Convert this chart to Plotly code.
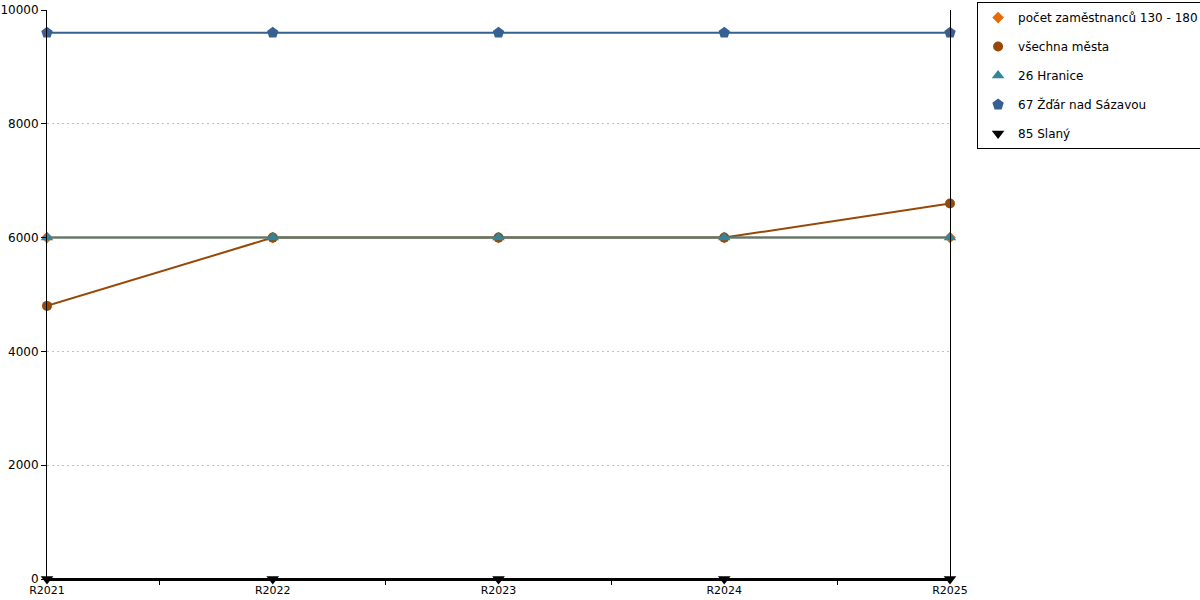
import plotly.graph_objects as go

categories = ["R2021", "R2022", "R2023", "R2024", "R2025"]
pocet_zamestnancu = [6000, 6000, 6000, 6000, 6000]
vsechna_mesta = [4800, 6000, 6000, 6000, 6600]
hranice = [6000, 6000, 6000, 6000, 6000]
zdar = [9600, 9600, 9600, 9600, 9600]
slany = [0, 0, 0, 0, 0]
y_ticks = [0, 2000, 4000, 6000, 8000, 10000]

series = [
    ("počet zaměstnanců 130 - 180", pocet_zamestnancu, "#E46C0A", "diamond", 9),
    ("všechna města", vsechna_mesta, "#974806", "circle", 10),
    ("26 Hranice", hranice, "#31859C", "triangle-up", 11),
    ("67 Žďár nad Sázavou", zdar, "#366092", "pentagon", 12),
    ("85 Slaný", slany, "#000000", "triangle-down", 11),
]

fig = go.Figure()
for i, (name, vals, color, sym, size) in enumerate(series):
    fig.add_trace(go.Scatter(
        x=categories, y=vals, name=name, mode="lines",
        line=dict(color=color, width=2), showlegend=False,
        cliponaxis=False, hoverinfo="skip",
    ))
    fig.add_trace(go.Scatter(
        x=categories, y=vals, name=name, mode="markers",
        marker=dict(symbol=sym, size=size, color=color),
        legendgroup=f"g{i}", cliponaxis=False,
    ))

fig.update_layout(
    width=1200, height=600,
    margin=dict(l=47, r=250, t=10, b=21, autoexpand=False),
    plot_bgcolor="white", paper_bgcolor="white",
    font=dict(family="DejaVu Sans", size=12, color="black"),
    legend=dict(
        x=1.030, y=1.014, xanchor="left", yanchor="top",
        bordercolor="black", borderwidth=1,
        tracegroupgap=10, font=dict(size=12), itemwidth=30,
    ),
    showlegend=True,
)
fig.update_xaxes(
    type="category", range=[0, 4], showgrid=False,
    showline=True, linecolor="black", linewidth=2,
    ticks="outside", tickson="boundaries", ticklen=4, tickcolor="black",
    zeroline=False, tickfont=dict(size=11),
)
fig.update_yaxes(
    range=[0, 10000], tickvals=y_ticks, tickformat="d",
    showgrid=True, gridcolor="#c0c0c0", griddash="2px,3px", gridwidth=1,
    showline=True, linecolor="black", linewidth=1, mirror=True,
    ticks="outside", ticklen=5, tickcolor="black",
    zeroline=False, tickfont=dict(size=12),
)

fig.write_html("out.html", config={"displayModeBar": False},
               post_script="document.body.style.margin='0';")
